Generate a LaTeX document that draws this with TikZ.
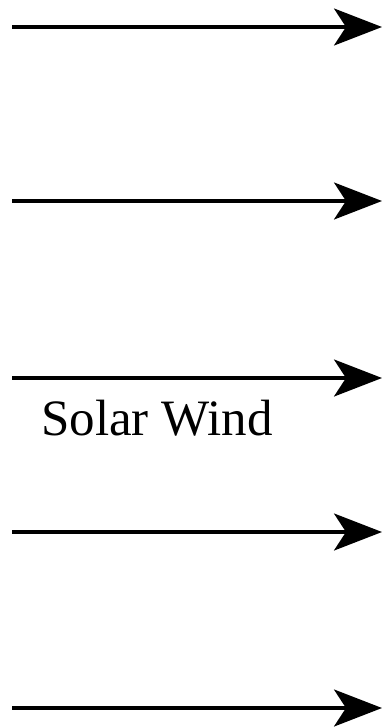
\documentclass[tikz,border=0pt]{standalone}
\usepackage{fontspec}
\setmainfont{Liberation Serif}
\usetikzlibrary{arrows.meta}
\tikzset{wind/.style={line width=3.2pt,-{Stealth[length=48pt,width=37pt,inset=12pt]}}}
\begin{document}
\begin{tikzpicture}[x=1pt,y=-1pt]
\useasboundingbox (0,0) rectangle (385,728);
\foreach \i/\y in {1/27,2/201,3/378,4/532,5/708}{
  \coordinate (s\i) at (12,\y);
  \coordinate (e\i) at (382,\y);
  \draw[wind] (s\i) -- (e\i);
}
\node[anchor=base west,inner sep=0pt,font=\fontsize{51}{61}\selectfont] (label) at (41,435) {Solar Wind};
\end{tikzpicture}
\end{document}
